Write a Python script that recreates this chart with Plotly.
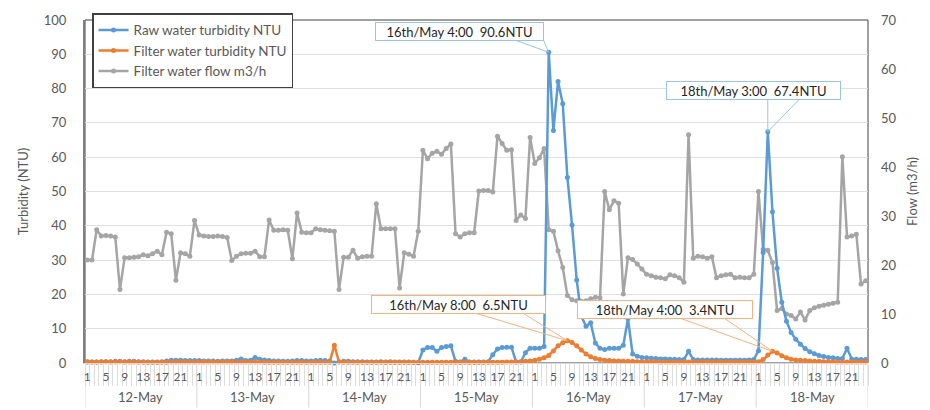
import plotly.graph_objects as go

# ---- data -----------------------------------------------------------------
days = ["12-May", "13-May", "14-May", "15-May", "16-May", "17-May", "18-May"]
hours = list(range(1, 25))
hour_ticks = [1, 5, 9, 13, 17, 21]

# hourly raw water turbidity (NTU), one row per day
raw_turbidity = (
    [0.3, 0.3, 0.3, 0.4, 0.4, 0.4, 0.5, 0.5, 0.4, 0.5, 0.5, 0.4, 0.4, 0.3, 0.3, 0.3, 0.4, 0.6, 0.8, 0.8, 0.8, 0.7, 0.7, 0.7]
    + [0.7, 0.6, 0.6, 0.6, 0.5, 0.6, 0.6, 0.6, 0.8, 1.2, 0.7, 0.8, 1.6, 1.1, 0.9, 0.7, 0.6, 0.6, 0.5, 0.5, 0.6, 0.7, 0.7, 0.6]
    + [0.6, 0.7, 0.8, 0.7, 0.6, 0.0, 0.4, 0.5, 0.5, 0.4, 0.4, 0.4, 0.3, 0.3, 0.3, 0.4, 0.3, 0.4, 0.3, 0.3, 0.3, 0.3, 0.2, 0.1]
    + [3.8, 4.5, 4.5, 3.4, 4.5, 4.8, 5.0, 0.5, 0.3, 1.1, 0.3, 0.3, 0.3, 0.3, 0.4, 2.4, 4.1, 4.5, 4.6, 4.6, 0.3, 0.3, 3.0, 4.3]
    + [4.3, 4.3, 4.8, 90.6, 67.8, 82.1, 75.6, 54.1, 40.2, 24.2, 13.6, 10.7, 11.7, 5.8, 4.3, 3.9, 4.3, 4.3, 4.3, 5.2, 12.9, 2.6, 2.0, 1.6]
    + [1.5, 1.4, 1.3, 1.2, 1.2, 1.1, 1.1, 1.0, 1.0, 3.4, 1.0, 0.9, 0.9, 0.9, 0.9, 0.9, 0.8, 0.8, 0.8, 0.8, 0.8, 0.8, 0.9, 1.0]
    + [3.6, 32.2, 67.4, 44.1, 27.6, 17.7, 12.2, 8.9, 6.9, 5.5, 4.2, 3.3, 2.7, 2.2, 1.9, 1.6, 1.5, 1.3, 1.3, 4.3, 1.2, 1.1, 1.0, 1.0]
)

# hourly filtered water turbidity (NTU)
filter_turbidity = (
    [0.4, 0.3, 0.3, 0.3, 0.4, 0.3, 0.3, 0.4, 0.3, 0.3, 0.3, 0.3, 0.2, 0.2, 0.2, 0.2, 0.2, 0.2, 0.3, 0.3, 0.3, 0.3, 0.3, 0.3]
    + [0.3, 0.3, 0.3, 0.3, 0.3, 0.3, 0.3, 0.3, 0.3, 0.3, 0.3, 0.3, 0.3, 0.3, 0.2, 0.2, 0.2, 0.2, 0.2, 0.2, 0.2, 0.2, 0.2, 0.2]
    + [0.2, 0.2, 0.2, 0.2, 0.2, 5.2, 0.3, 0.2, 0.2, 0.2, 0.2, 0.2, 0.2, 0.2, 0.2, 0.2, 0.2, 0.2, 0.2, 0.2, 0.2, 0.2, 0.2, 0.2]
    + [0.2, 0.2, 0.2, 0.2, 0.2, 0.2, 0.2, 0.2, 0.2, 0.2, 0.2, 0.2, 0.2, 0.2, 0.2, 0.2, 0.2, 0.2, 0.3, 0.3, 0.3, 0.4, 0.5, 0.6]
    + [0.8, 1.1, 1.5, 2.2, 3.5, 5.0, 5.9, 6.5, 6.0, 5.0, 3.8, 2.6, 1.8, 1.3, 1.0, 0.8, 0.7, 0.6, 0.6, 0.5, 0.5, 0.5, 0.4, 0.4]
    + [0.4, 0.4, 0.4, 0.3, 0.3, 0.3, 0.3, 0.3, 0.3, 0.3, 0.3, 0.3, 0.3, 0.3, 0.3, 0.3, 0.3, 0.3, 0.3, 0.3, 0.3, 0.3, 0.3, 0.3]
    + [0.4, 1.0, 2.3, 3.4, 2.9, 2.1, 1.5, 1.1, 0.9, 0.8, 0.7, 0.6, 0.5, 0.5, 0.4, 0.4, 0.4, 0.3, 0.3, 0.3, 0.3, 0.3, 0.3, 0.3]
)

# hourly filtered water flow (m3/h)
filter_flow = (
    [21.0, 21.0, 27.2, 25.9, 26.0, 25.9, 25.7, 15.0, 21.5, 21.5, 21.6, 21.7, 22.1, 21.9, 22.3, 22.8, 22.1, 26.7, 26.4, 16.9, 22.5, 22.3, 21.8, 29.1]
    + [26.1, 25.9, 25.8, 25.8, 25.9, 25.8, 25.6, 20.9, 21.8, 22.3, 22.4, 22.4, 22.8, 21.7, 21.7, 29.2, 27.1, 27.1, 27.2, 27.1, 21.3, 30.6, 26.7, 26.6]
    + [26.6, 27.4, 27.2, 27.1, 27.0, 26.9, 15.0, 21.6, 21.6, 23.0, 21.4, 21.7, 21.8, 21.8, 32.5, 27.4, 27.4, 27.4, 27.4, 15.3, 22.5, 22.2, 21.8, 26.9]
    + [43.4, 41.7, 42.8, 43.2, 42.6, 43.8, 44.7, 26.4, 25.7, 26.4, 26.6, 26.6, 35.1, 35.2, 35.2, 34.9, 46.3, 44.8, 43.4, 43.5, 29.1, 30.2, 29.5, 46.0]
    + [40.7, 41.9, 43.8, 27.2, 26.9, 22.9, 19.5, 13.8, 12.9, 12.7, 12.6, 12.7, 13.1, 13.4, 13.3, 35.0, 31.3, 33.1, 32.6, 14.1, 21.5, 21.1, 20.2, 19.2]
    + [18.1, 17.8, 17.5, 17.4, 17.2, 18.0, 17.8, 17.4, 16.5, 46.6, 21.4, 21.8, 21.7, 21.4, 21.7, 17.4, 17.8, 18.0, 18.1, 17.4, 17.5, 17.4, 17.4, 18.1]
    + [35.0, 23.2, 23.0, 20.5, 10.7, 11.1, 10.0, 9.7, 9.0, 10.4, 8.8, 10.7, 11.3, 11.6, 11.8, 12.0, 12.2, 12.4, 42.1, 25.7, 25.9, 26.3, 16.1, 16.8]
)

# ---- styling --------------------------------------------------------------
BLUE = "#5b9bd5"
ORANGE = "#ed7d31"
GRAY = "#a5a5a5"
TEXT = "#595959"
FONT = "Lato"

n_hours = len(hours)
n = len(days) * n_hours
x = list(range(n))

fig = go.Figure()

# flow is drawn first so the turbidity lines sit on top of it
fig.add_trace(go.Scatter(
    x=x, y=filter_flow, name="Filter water flow m3/h", yaxis="y",
    mode="lines+markers", line=dict(color=GRAY, width=2.5),
    marker=dict(color=GRAY, size=5), cliponaxis=False, legendrank=3,
))
fig.add_trace(go.Scatter(
    x=x, y=raw_turbidity, name="Raw water turbidity NTU", yaxis="y2",
    mode="lines+markers", line=dict(color=BLUE, width=2.5),
    marker=dict(color=BLUE, size=5), cliponaxis=False, legendrank=1,
))
fig.add_trace(go.Scatter(
    x=x, y=filter_turbidity, name="Filter water turbidity NTU", yaxis="y2",
    mode="lines+markers", line=dict(color=ORANGE, width=2.5),
    marker=dict(color=ORANGE, size=5), cliponaxis=False, legendrank=2,
))

# ---- callouts: (series, day-of-month, hour, box offset, box width, wedge base) ----
series = {"raw": (raw_turbidity, "#9cc3e5"), "filter": (filter_turbidity, "#f4b183")}
callouts = [
    ("raw", 16, 4, (-89, 20.5), 165, (-32, 11.5, -5, 11.5)),
    ("raw", 18, 3, (-14, 41), 171, (0, 32, 31, 32)),
    ("filter", 16, 8, (-109, 36.5), 171, (-95, 28.5, -46, 28.5)),
    ("filter", 18, 4, (-107, 42), 172, (-92, 33, -48, 33)),
]
first_day = int(days[0].split("-")[0])
annotations = []
shapes = []
for key, day, hour, (dx, dy), width, (ax1, ay1, ax2, ay2) in callouts:
    values, edge = series[key]
    i = (day - first_day) * n_hours + hours.index(hour)
    v = values[i]
    annotations.append(dict(
        x=i, y=v, xref="x", yref="y2", showarrow=False,
        xanchor="center", yanchor="middle", xshift=dx, yshift=dy,
        text=f"{day}th/May {hour}:00&nbsp;&nbsp;{v:.1f}NTU",
        font=dict(family=FONT, size=13, color="#262626"),
        bgcolor="white", bordercolor=edge, borderwidth=1, borderpad=1,
        width=width, height=15,
    ))
    shapes.append(dict(
        type="path", xref="x", yref="y2", xsizemode="pixel", ysizemode="pixel",
        xanchor=i, yanchor=v,
        path=f"M {ax1},{ay1} L 0,0 L {ax2},{ay2}",
        line=dict(color=edge, width=1), layer="above",
    ))

# day group labels and separators under the hour ticks
for d, label in enumerate(days):
    annotations.append(dict(
        x=d * n_hours + (n_hours - 1) / 2, y=0, xref="x", yref="paper",
        yshift=-34, showarrow=False, text=label, yanchor="middle",
        font=dict(family=FONT, size=13, color=TEXT),
    ))
for d in range(len(days) + 1):
    xb = d * n_hours - 0.5
    shapes.append(dict(
        type="line", xref="x", yref="paper", x0=xb, x1=xb, y0=0, y1=-0.13,
        line=dict(color="#d9d9d9", width=1), layer="below",
    ))

# plot-area frame
shapes.append(dict(
    type="rect", xref="paper", yref="paper", x0=0, x1=1, y0=0, y1=1,
    line=dict(color="#404040", width=1), layer="below",
))

tickvals = [d * n_hours + hours.index(h) for d in range(len(days)) for h in hour_ticks]
ticktext = [str(h) for d in range(len(days)) for h in hour_ticks]

fig.update_layout(
    width=930, height=410,
    margin=dict(l=85, r=60, t=17, b=47),
    paper_bgcolor="white", plot_bgcolor="white",
    font=dict(family=FONT, color=TEXT),
    showlegend=True,
    legend=dict(
        x=0.009, y=1.02, xanchor="left", yanchor="top",
        bgcolor="white", bordercolor="#404040", borderwidth=1.5,
        font=dict(family=FONT, size=13.5, color=TEXT),
        tracegroupgap=0, itemwidth=30,
    ),
    xaxis=dict(
        range=[-0.5, n - 0.5], tickmode="array", tickvals=tickvals, ticktext=ticktext,
        ticks="", showgrid=False, zeroline=False, showline=True,
        linecolor="#d9d9d9", linewidth=1,
        tickfont=dict(family=FONT, size=12, color=TEXT), tickangle=0,
        ticklabelstandoff=3,
        minor=dict(ticks="outside", ticklen=22, tickcolor="#dcdcdc", tickwidth=1,
                   tick0=-0.5, dtick=1, showgrid=False),
    ),
    yaxis=dict(
        side="right", range=[0, 70], dtick=10, showgrid=False, zeroline=False,
        showline=False, ticks="",
        tickfont=dict(family=FONT, size=13, color=TEXT), ticklabelstandoff=12,
        title=dict(text="Flow (m3/h)", font=dict(family=FONT, size=13, color=TEXT), standoff=12),
    ),
    yaxis2=dict(
        overlaying="y", side="left", range=[0, 100], dtick=10,
        showgrid=True, gridcolor="#e0e0e0", gridwidth=1, zeroline=False,
        showline=True, linecolor="#808080", linewidth=2, ticks="",
        tickfont=dict(family=FONT, size=13, color=TEXT), ticklabelstandoff=14,
        title=dict(text="Turbidity (NTU)", font=dict(family=FONT, size=13, color=TEXT), standoff=12),
    ),
    annotations=annotations,
    shapes=shapes,
)

fig.write_html("out.html")
